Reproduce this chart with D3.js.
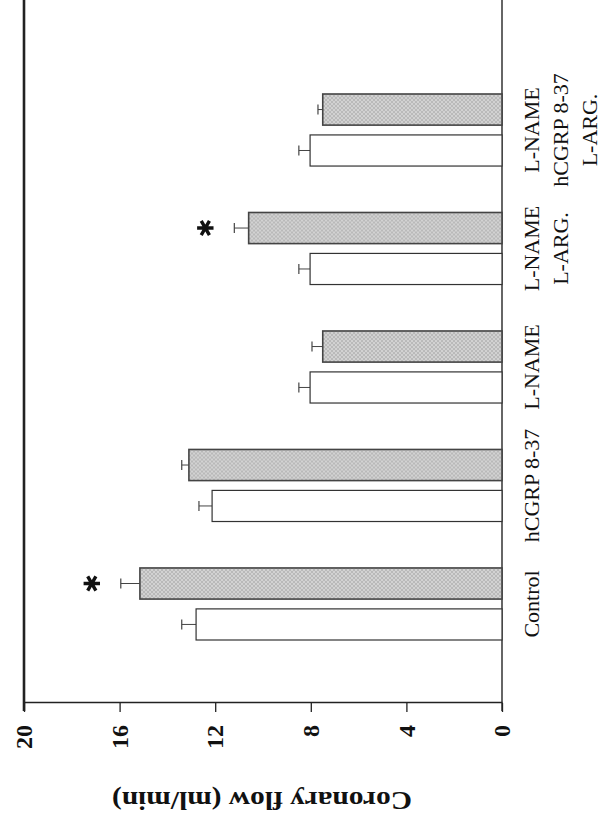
<!DOCTYPE html>
<html>
<head>
<meta charset="utf-8">
<script src="https://cdn.jsdelivr.net/npm/d3@7"></script>
<style>
  body { margin: 0; background: #fff; }
  svg { font-family: "Liberation Serif", "Times New Roman", serif; }
  .axis path, .axis line { stroke: #222; stroke-width: 1.3; }
  .axis text { font-family: "Liberation Serif", "Times New Roman", serif; font-size: 24px; font-weight: bold; fill: #111; }
</style>
</head>
<body>
<svg id="root"></svg>
<script>
// data
const categories = ["Control", "hCGRP 8-37", "L-NAME", "L-NAME|L-ARG.", "L-NAME|hCGRP 8-37|L-ARG."];
const whiteValues = [12.8, 12.13, 8.03, 8.03, 8.03];
const whiteErrors = [0.6, 0.55, 0.47, 0.47, 0.47];
const grayValues = [15.15, 13.1, 7.5, 10.6, 7.5];
const grayErrors = [0.8, 0.3, 0.45, 0.6, 0.2];
const starred = [true, false, false, true, false];
const yTicks = [0, 4, 8, 12, 16, 20];

const width = 610, height = 822;
// the figure is drawn upright, then turned a quarter turn to the left
const inner = { w: 720, h: 478 };
const offset = { x: 24, y: 703 };

const svg = d3.select('#root')
    .attr('width', width)
    .attr('height', height);

const defs = svg.append('defs');
const pat = defs.append('pattern')
    .attr('id', 'stipple')
    .attr('width', 4).attr('height', 4)
    .attr('patternUnits', 'userSpaceOnUse');
pat.append('rect').attr('width', 4).attr('height', 4).attr('fill', '#d2d2d2');
pat.append('path').attr('d', 'M0,0L4,4M4,0L0,4').attr('stroke', '#a8a8a8').attr('stroke-width', 0.6);

const g = svg.append('g')
    .attr('transform', `translate(${offset.x}, ${offset.y}) rotate(-90)`);

const y = d3.scaleLinear().domain([0, 20]).range([inner.h, 0]);

const x0 = d3.scaleBand()
    .domain(categories)
    .range([63, 609])
    .paddingInner(0.392)
    .paddingOuter(0);

const x1 = d3.scaleBand()
    .domain(['white', 'gray'])
    .range([0, x0.bandwidth()])
    .paddingInner(0.24)
    .paddingOuter(0);

const rows = categories.map((c, i) => ({
    cat: c,
    bars: [
        { key: 'white', v: whiteValues[i], e: whiteErrors[i] },
        { key: 'gray', v: grayValues[i], e: grayErrors[i], star: starred[i] }
    ]
}));

// frame: left edge at 20 and baseline at 0
g.append('line')
    .attr('x1', -8).attr('x2', inner.w)
    .attr('y1', y(20)).attr('y2', y(20))
    .attr('stroke', '#222').attr('stroke-width', 2.6);
g.append('line')
    .attr('x1', -8).attr('x2', inner.w)
    .attr('y1', y(0)).attr('y2', y(0))
    .attr('stroke', '#333').attr('stroke-width', 1.5);

const group = g.selectAll('.grp')
    .data(rows)
    .enter().append('g')
    .attr('class', 'grp')
    .attr('transform', d => `translate(${x0(d.cat)}, 0)`);

const bar = group.selectAll('.bar')
    .data(d => d.bars)
    .enter().append('g')
    .attr('class', 'bar');

const mid = d => x1(d.key) + x1.bandwidth() / 2;

// error whiskers (upper side only)
bar.append('line')
    .attr('x1', mid).attr('x2', mid)
    .attr('y1', d => y(d.v))
    .attr('y2', d => y(d.v + d.e))
    .attr('stroke', '#444').attr('stroke-width', 1);
bar.append('line')
    .attr('x1', d => mid(d) - 5)
    .attr('x2', d => mid(d) + 5)
    .attr('y1', d => y(d.v + d.e))
    .attr('y2', d => y(d.v + d.e))
    .attr('stroke', '#444').attr('stroke-width', 1.2);

bar.append('rect')
    .attr('x', d => x1(d.key))
    .attr('y', d => y(d.v))
    .attr('width', x1.bandwidth())
    .attr('height', d => y(0) - y(d.v))
    .attr('fill', d => d.key === 'gray' ? 'url(#stipple)' : '#fff')
    .attr('stroke', d => d.key === 'gray' ? '#444' : '#333')
    .attr('stroke-width', d => d.key === 'gray' ? 1.6 : 1.2);

const star = d3.symbol(d3.symbolAsterisk, 190);
bar.filter(d => d.star)
    .append('path')
    .attr('d', star())
    .attr('transform', d => `translate(${mid(d)}, ${y(d.v + d.e) - 29})`)
    .attr('fill', 'none')
    .attr('stroke', '#111')
    .attr('stroke-width', 3.4);

// category labels
const label = group.append('text')
    .attr('text-anchor', 'middle')
    .attr('font-size', 22)
    .attr('fill', '#111');
label.selectAll('tspan')
    .data(d => d.cat.split('|'))
    .enter().append('tspan')
    .attr('x', x0.bandwidth() / 2)
    .attr('y', (d, i) => y(0) + 37 + i * 29)
    .text(d => d);

// value axis
const axisY = d3.axisLeft(y).tickValues(yTicks).tickSize(9).tickSizeOuter(0).tickPadding(13);
g.append('g')
    .attr('class', 'y axis')
    .call(axisY);

g.append('text')
    .attr('transform', `translate(-89, ${262 - offset.x}) rotate(-90)`)
    .attr('text-anchor', 'middle')
    .attr('font-size', 25)
    .attr('font-weight', 'bold')
    .attr('textLength', 300)
    .attr('lengthAdjust', 'spacingAndGlyphs')
    .attr('fill', '#111')
    .text('Coronary flow (ml/min)');
</script>
</body>
</html>
